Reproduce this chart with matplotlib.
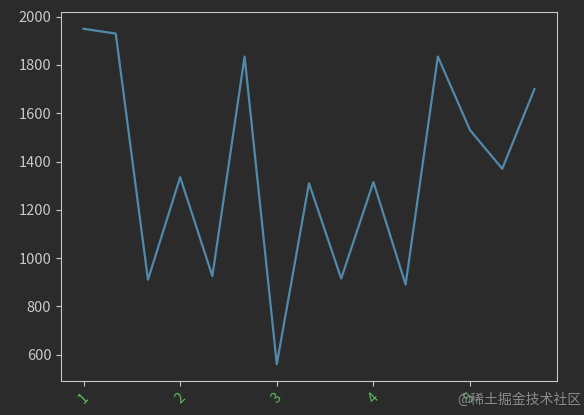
import matplotlib
matplotlib.use("Agg")
import matplotlib.pyplot as plt

plt.rcParams['font.family'] = ['Noto Sans CJK SC', 'DejaVu Sans']

x_values = [1, 4/3, 5/3, 2, 7/3, 8/3, 3, 10/3, 11/3, 4, 13/3, 14/3, 5, 16/3, 17/3]
y_values = [1950, 1930, 910, 1335, 925, 1835, 560, 1310, 915, 1315, 890, 1835, 1530, 1370, 1700]
x_ticks = [1, 2, 3, 4, 5]
y_ticks = [600, 800, 1000, 1200, 1400, 1600, 1800, 2000]

bg = '#2b2b2b'
fig = plt.figure(figsize=(5.84, 4.15), dpi=100, facecolor=bg)
ax = fig.add_axes([61/584, 1 - 381/415, 496/584, 369/415])
ax.set_facecolor(bg)
ax.plot(x_values, y_values, color='#5189ad', linewidth=1.6)
ax.set_xticks(x_ticks)
ax.set_yticks(y_ticks)
for s in ax.spines.values():
    s.set_color('#c8c8c8')
ax.tick_params(axis='both', colors='#c8c8c8', labelsize=10.5)
ax.tick_params(axis='x', labelcolor='#5cb85c')
for lab in ax.get_xticklabels():
    lab.set_rotation(45)
fig.text(0.995, 0.02, '@稀土掘金技术社区', color='#8a8a8a', fontsize=10, ha='right', va='bottom')
fig.savefig('out.png', dpi=100, facecolor=bg)
